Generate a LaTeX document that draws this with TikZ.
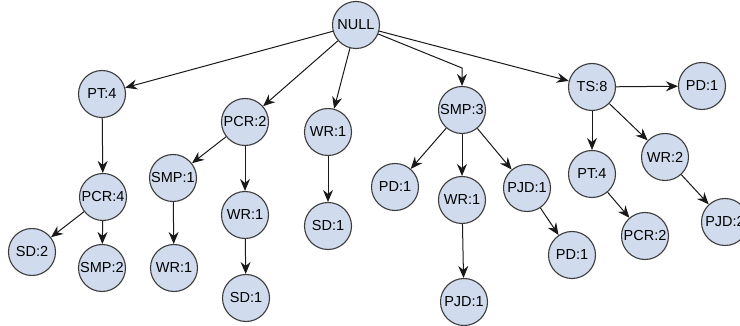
\documentclass[tikz,border=0pt]{standalone}
\usepackage{fontspec}
\setmainfont{Liberation Sans}
\usetikzlibrary{arrows.meta}
\definecolor{nodefill}{RGB}{208,220,237}
\definecolor{nodeline}{RGB}{60,60,60}

\begin{document}
\begin{tikzpicture}[x=1pt,y=-1pt,
  item/.style={circle,draw=nodeline,line width=1.1pt,fill=nodefill,minimum size=47pt,inner sep=0pt,font=\fontsize{14.5}{16}\selectfont},
  arr/.style={-{Stealth[length=12pt,width=10pt,inset=4pt]},line width=1pt,black!90}]
\useasboundingbox(0,0)rectangle(740,326);
\clip(0,0)rectangle(740,326);
\node[item](null)at(356,25){NULL};
\node[item](pt)at(102,94){PT:4};
\node[item](pcrA)at(245,122){PCR:2};
\node[item](wrA)at(328,132){WR:1};
\node[item](smp)at(462,110){SMP:3};
\node[item](ts)at(592,87){TS:8};
\node[item](pdA)at(702,86){PD:1};
\node[item](pcrB)at(103,197){PCR:4};
\node[item](sd)at(32,252){SD:2};
\node[item](smpB)at(102,268){SMP:2};
\node[item](smpC)at(173,178){SMP:1};
\node[item](wrB)at(174,268){WR:1};
\node[item](wrC)at(245,215){WR:1};
\node[item](sdA)at(246,298){SD:1};
\node[item](sdB)at(328,226){SD:1};
\node[item](pdB)at(395,187){PD:1};
\node[item](wrD)at(462,200){WR:1};
\node[item](pjdA)at(527,188){PJD:1};
\node[item](pdC)at(572,255){PD:1};
\node[item](pjdB)at(464,302){PJD:1};
\node[item](ptB)at(592,174){PT:4};
\node[item](pcrC)at(645,236){PCR:2};
\node[item](wrE)at(665,157){WR:2};
\node[item](pjdC)at(725,222){PJD:2};
\coordinate(bend)at(462,68);
\draw[arr](null)--(pt);
\draw[arr](null)--(pcrA);
\draw[arr](null)--(wrA);
\draw[arr](null)--(bend)--(smp);
\draw[arr](null)--(ts);
\draw[arr](pt)--(pcrB);
\draw[arr](pcrB)--(sd);
\draw[arr](pcrB)--(smpB);
\draw[arr](pcrA)--(smpC);
\draw[arr](pcrA)--(wrC);
\draw[arr](smpC)--(wrB);
\draw[arr](wrC)--(sdA);
\draw[arr](wrA)--(sdB);
\draw[arr](smp)--(pdB);
\draw[arr](smp)--(wrD);
\draw[arr](smp)--(pjdA);
\draw[arr](wrD)--(pjdB);
\draw[arr](pjdA)--(pdC);
\draw[arr](ts)--(pdA);
\draw[arr](ts)--(ptB);
\draw[arr](ts)--(wrE);
\draw[arr](ptB)--(pcrC);
\draw[arr](wrE)--(pjdC);
\end{tikzpicture}
\end{document}
